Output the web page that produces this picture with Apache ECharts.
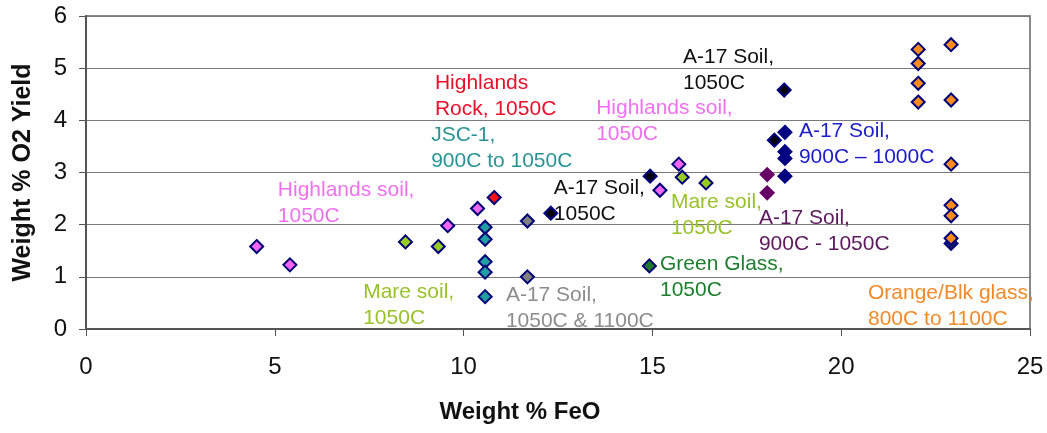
<!DOCTYPE html>
<html>
<head>
<meta charset="utf-8">
<script src="https://cdn.jsdelivr.net/npm/echarts@6/dist/echarts.min.js"></script>
<style>
  html, body { margin: 0; padding: 0; background: #fff; }
  #chart { width: 1047px; height: 433px; }
</style>
</head>
<body>
<div id="chart"></div>
<script>
// values: [Weight % FeO, Weight % O2 yield]
var highlandsSoil = [[4.52, 1.58], [5.40, 1.23], [9.58, 1.98], [10.37, 2.31], [15.20, 2.66], [15.70, 3.16]]
var highlandsRock = [[10.81, 2.52]]
var jsc1 = [[10.57, 1.95], [10.57, 1.72], [10.57, 1.29], [10.57, 1.09], [10.57, 0.62]]
var a17Soil1100 = [[11.69, 2.07], [11.69, 1.00]]
var mareSoil = [[8.46, 1.67], [9.33, 1.58], [15.79, 2.91], [16.42, 2.80]]
var a17Soil1050 = [[12.31, 2.22], [14.94, 2.93], [18.23, 3.62], [18.49, 4.58]]
var a17Soil900 = [[18.51, 3.77], [18.51, 3.40], [18.51, 3.27], [18.51, 2.93]]
var a17Soil9001050 = [[18.04, 2.96], [18.04, 2.61]]
var greenGlass = [[14.92, 1.21]]
var blackGlass = [[22.91, 1.64]]
var orangeGlass = [[22.04, 5.36], [22.04, 5.09], [22.04, 4.71], [22.04, 4.35],
  [22.91, 5.45], [22.91, 4.39], [22.91, 3.16], [22.91, 2.37], [22.91, 2.17], [22.91, 1.74]]

var xTicks = [0, 5, 10, 15, 20, 25]
var yTicks = [0, 1, 2, 3, 4, 5, 6]

// annotation text, anchored at left edge / first line centre (data units)
var notes = [
  { text: 'Highlands\nRock, 1050C', at: [9.24, 4.71], color: '#e8102a' },
  { text: 'JSC-1,\n900C to 1050C', at: [9.14, 3.72], color: '#2a9494' },
  { text: 'Highlands soil,\n1050C', at: [13.51, 4.23], color: '#f070f0' },
  { text: 'A-17 Soil,\n1050C', at: [15.81, 5.21], color: '#111111' },
  { text: 'Highlands soil,\n1050C', at: [5.08, 2.66], color: '#f070f0' },
  { text: 'A-17 Soil,\n1050C', at: [12.39, 2.70], color: '#111111' },
  { text: 'Mare soil,\n1050C', at: [15.49, 2.43], color: '#99c12a' },
  { text: 'A-17 Soil,\n900C \u2013 1000C', at: [18.88, 3.79], color: '#1c1cc8' },
  { text: 'A-17 Soil,\n900C - 1050C', at: [17.82, 2.13], color: '#5c1a5c' },
  { text: 'Green Glass,\n1050C', at: [15.20, 1.25], color: '#1d7f2d' },
  { text: 'A-17 Soil,\n1050C & 1100C', at: [11.12, 0.65], color: '#8c8c8c' },
  { text: 'Mare soil,\n1050C', at: [7.34, 0.71], color: '#99c12a' },
  { text: 'Orange/Blk glass,\n800C to 1100C', at: [20.71, 0.69], color: '#f28a2a' }
]

var font = 'Liberation Sans, Arial, sans-serif'

function dots (name, data, fill, border) {
  return {
    name: name,
    type: 'scatter',
    data: data,
    symbol: 'diamond',
    symbolSize: 13,
    itemStyle: { color: fill, borderColor: border || '#000078', borderWidth: 2, opacity: 1 }
  }
}

var blackCentre = {
  type: 'radial', x: 0.5, y: 0.5, r: 0.5,
  colorStops: [{ offset: 0, color: '#000000' }, { offset: 0.55, color: '#000010' }, { offset: 1, color: '#000080' }]
}

var chart = echarts.init(document.getElementById('chart'), null, { renderer: 'canvas' })

chart.setOption({
  animation: false,
  backgroundColor: '#fff',
  grid: {
    left: 86, right: 17, top: 16, bottom: 104,
    outerBoundsMode: 'none',
    containLabel: false,
    show: true, borderColor: '#8a8a8a', borderWidth: 2
  },
  xAxis: {
    type: 'value',
    min: xTicks[0],
    max: xTicks[xTicks.length - 1],
    interval: 5,
    name: 'Weight % FeO',
    nameLocation: 'middle',
    nameGap: 71,
    nameTextStyle: { fontFamily: font, fontSize: 24, fontWeight: 'bold', color: '#111', padding: [0, 76, 0, 0] },
    axisLine: { show: true, lineStyle: { color: '#555', width: 2 } },
    axisTick: { show: true, length: 7, lineStyle: { color: '#555', width: 1 } },
    axisLabel: { fontFamily: font, fontSize: 24, color: '#111', margin: 26 },
    splitLine: { show: false }
  },
  yAxis: {
    type: 'value',
    min: yTicks[0],
    max: yTicks[yTicks.length - 1],
    interval: 1,
    name: 'Weight % O2 Yield',
    nameLocation: 'middle',
    nameGap: 50,
    nameTextStyle: { fontFamily: font, fontSize: 25, fontWeight: 'bold', color: '#111' },
    axisLine: { show: true, lineStyle: { color: '#555', width: 2 } },
    axisTick: { show: true, length: 7, lineStyle: { color: '#555', width: 1 } },
    axisLabel: { fontFamily: font, fontSize: 24, color: '#111', margin: 19 },
    splitLine: { show: true, lineStyle: { color: '#7a7a7a', width: 1 } }
  },
  series: [
    dots('Highlands soil', highlandsSoil, '#f266f2'),
    dots('Highlands rock', highlandsRock, '#ff1010'),
    dots('JSC-1', jsc1, '#1f9fa0'),
    dots('A-17 Soil 1050C & 1100C', a17Soil1100, '#808080'),
    dots('Mare soil', mareSoil, '#99cc22'),
    dots('A-17 Soil 1050C', a17Soil1050, blackCentre, '#000080'),
    dots('A-17 Soil 900C-1000C', a17Soil900, '#000080', '#000080'),
    dots('A-17 Soil 900C-1050C', a17Soil9001050, '#660066', '#660066'),
    dots('Green glass', greenGlass, '#1e7a2a'),
    dots('Black glass', blackGlass, '#1a1a70'),
    dots('Orange glass', orangeGlass, '#ff8c1a')
  ]
})

// place annotations through the grid's own scale
chart.setOption({
  graphic: notes.map(function (n) {
    var p = chart.convertToPixel({ gridIndex: 0 }, n.at)
    return {
      type: 'text',
      x: p[0],
      y: p[1] - 13,
      z: 10,
      style: {
        text: n.text,
        fill: n.color,
        font: '21px ' + font,
        lineHeight: 26,
        verticalAlign: 'top'
      }
    }
  })
})
</script>
</body>
</html>
